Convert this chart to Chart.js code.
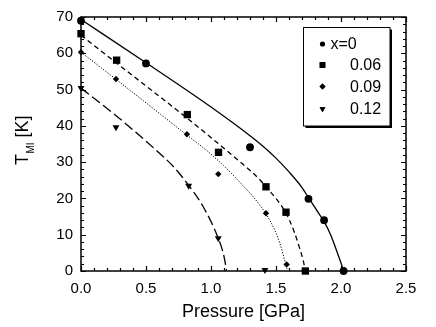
<!DOCTYPE html>
<html><head><meta charset="utf-8">
<script src="https://cdn.jsdelivr.net/npm/chart.js@4/dist/chart.umd.min.js"></script>
<style>html,body{margin:0;padding:0;background:#fff;} canvas{display:block;}</style>
</head><body>
<canvas id="c" width="436" height="327"></canvas>
<script>
const seriesLabels = ['x=0', '0.06', '0.09', '0.12'];
// measured points
const pressure0 = [0, 0.5, 1.3, 1.75, 1.87, 2.02];
const tmi0 = [69, 57.2, 34.1, 19.9, 14, 0];
const pressure06 = [0, 0.274, 0.818, 1.058, 1.423, 1.577, 1.726];
const tmi06 = [65.4, 58.1, 43.1, 32.7, 23.2, 16.2, 0];
const pressure09 = [0, 0.269, 0.815, 1.056, 1.423, 1.582];
const tmi09 = [60.3, 52.9, 37.7, 26.7, 15.9, 1.8];
const pressure12 = [0, 0.269, 0.828, 1.056, 1.415];
const tmi12 = [50.4, 39.6, 23.5, 9.0, 0.3];
// fitted curves
const fitP0 = [0, 0.5, 1.0, 1.3, 1.4, 1.5, 1.6, 1.7, 1.75, 1.81, 1.87, 1.92, 1.96, 2.0, 2.02];
const fitT0 = [69.3, 57.4, 45.2, 37.3, 34.4, 31.1, 27.3, 23.0, 20.2, 16.9, 13.6, 10.0, 6.2, 2.2, 0];
const fitP06 = [0, 0.27, 0.81, 1.06, 1.2, 1.38, 1.42, 1.5, 1.56, 1.6, 1.64, 1.68, 1.71, 1.726];
const fitT06 = [65.0, 57.4, 42.3, 35.0, 30.8, 25.0, 23.3, 20.0, 17.0, 14.3, 10.8, 6.5, 2.8, 0];
const fitP09 = [0, 0.27, 0.81, 1.0, 1.2, 1.42, 1.49, 1.53, 1.57, 1.585];
const fitT09 = [60.3, 52.8, 37.6, 32.2, 25.3, 15.9, 11.3, 7.6, 2.5, 0.5];
const fitP12 = [0, 0.27, 0.556, 0.71, 0.83, 0.94, 1.056, 1.1, 1.12];
const fitT12 = [50.4, 42.8, 34.0, 28.8, 23.5, 17.7, 9.0, 4.0, 0];
const xTickLabels = ['0.0', '0.5', '1.0', '1.5', '2.0', '2.5'];
const yTickLabels = ['0', '10', '20', '30', '40', '50', '60', '70'];

const FONT = "'Liberation Sans', Arial, sans-serif";
const zip = (xs, ys) => xs.map((x, i) => ({x: x, y: ys[i]}));

const markerStyles = [
  {pointStyle: 'circle', radius: 3.9, rotation: 0, lr: 2.6},
  {pointStyle: 'rect', radius: 5.2, rotation: 0, lr: 4},
  {pointStyle: 'rectRot', radius: 3.2, rotation: 0, lr: 3},
  {pointStyle: 'triangle', radius: 4, rotation: 180, lr: 3.3}
];
const lineStyles = [
  {dash: [], width: 1.3},
  {dash: [5, 3.5], width: 1.3},
  {dash: [1.2, 1.6], width: 1},
  {dash: [10, 4], width: 1.3}
];
const fitSets = [[fitP0, fitT0], [fitP06, fitT06], [fitP09, fitT09], [fitP12, fitT12]];
const markerSets = [[pressure0, tmi0], [pressure06, tmi06], [pressure09, tmi09], [pressure12, tmi12]];

const datasets = [];
fitSets.forEach((s, i) => {
  datasets.push({
    label: seriesLabels[i] + ' fit', data: zip(s[0], s[1]), showLine: true,
    borderColor: '#000', borderWidth: lineStyles[i].width, borderDash: lineStyles[i].dash,
    pointRadius: 0, cubicInterpolationMode: 'monotone', clip: false, fill: false
  });
});
markerSets.forEach((s, i) => {
  datasets.push({
    label: seriesLabels[i], data: zip(s[0], s[1]), showLine: false,
    pointStyle: markerStyles[i].pointStyle, pointRadius: markerStyles[i].radius,
    pointRotation: markerStyles[i].rotation,
    backgroundColor: '#000', borderColor: '#000', borderWidth: 0, clip: false
  });
});

const framePlugin = {
  id: 'frame',
  beforeDatasetsDraw(chart) {
    const ctx = chart.ctx, a = chart.chartArea;
    const xs = chart.scales.x, ys = chart.scales.y;
    ctx.save();
    ctx.strokeStyle = '#000';
    ctx.lineWidth = 1.5;
    ctx.strokeRect(a.left, a.top, a.right - a.left, a.bottom - a.top);
    ctx.lineWidth = 1.2;
    ctx.beginPath();
    for (let k = 0; k <= 25; k++) {
      const v = k * 0.1;
      const px = Math.round(xs.getPixelForValue(v)) + 0.5;
      const len = (k % 5 === 0) ? 5 : 3;
      ctx.moveTo(px, a.bottom); ctx.lineTo(px, a.bottom - len);
      ctx.moveTo(px, a.top); ctx.lineTo(px, a.top + len);
    }
    for (let k = 0; k <= 35; k++) {
      const v = k * 2;
      const py = Math.round(ys.getPixelForValue(v)) + 0.5;
      const len = (k % 5 === 0) ? 5 : 3;
      ctx.moveTo(a.left, py); ctx.lineTo(a.left + len, py);
      ctx.moveTo(a.right, py); ctx.lineTo(a.right - len, py);
    }
    ctx.stroke();
    ctx.restore();
  },
  afterDraw(chart) {
    const ctx = chart.ctx;
    // y-axis title with subscript
    ctx.save();
    ctx.fillStyle = '#000';
    ctx.translate(28, 165);
    ctx.rotate(-Math.PI / 2);
    ctx.textBaseline = 'alphabetic';
    ctx.textAlign = 'left';
    ctx.font = '18px ' + FONT;
    ctx.fillText('T', 0, 0);
    let w = ctx.measureText('T').width;
    ctx.font = '10px ' + FONT;
    ctx.fillText('MI', w + 0.5, 6);
    w += ctx.measureText('MI').width + 0.5;
    ctx.font = '18px ' + FONT;
    ctx.fillText(' [K]', w, 0);
    ctx.restore();

    // legend box
    const L = 303.5, T = 27.5, R = 390, B = 126;
    ctx.save();
    ctx.fillStyle = '#000';
    ctx.fillRect(L + 2, T + 2, R - L, B - T);
    ctx.fillStyle = '#fff';
    ctx.fillRect(L, T, R - L, B - T);
    ctx.strokeStyle = '#000';
    ctx.lineWidth = 1;
    ctx.strokeRect(L, T, R - L, B - T);
    const rowY = [44, 65, 86.5, 109];
    const textX = [330.5, 350, 350, 350];
    ctx.font = '16px ' + FONT;
    ctx.textBaseline = 'middle';
    ctx.textAlign = 'left';
    for (let i = 0; i < 4; i++) {
      Chart.helpers.drawPoint(ctx, {
        pointStyle: markerStyles[i].pointStyle, radius: markerStyles[i].lr,
        rotation: markerStyles[i].rotation, borderWidth: 0
      }, 322.5, rowY[i]);
      ctx.fillStyle = '#000';
      ctx.fill();
      ctx.fillText(seriesLabels[i], textX[i], rowY[i] + 1);
    }
    ctx.restore();
  }
};

new Chart(document.getElementById('c'), {
  type: 'scatter',
  data: {datasets: datasets},
  options: {
    responsive: false, animation: false, devicePixelRatio: 1,
    layout: {padding: {top: 17, right: 30, left: 0, bottom: 0}},
    plugins: {legend: {display: false}, tooltip: {enabled: false}},
    scales: {
      x: {
        type: 'linear', min: 0, max: 2.5,
        grid: {display: false, drawTicks: false}, border: {display: false},
        ticks: {stepSize: 0.5, padding: 9, color: '#000', font: {family: FONT, size: 15},
          maxRotation: 0, autoSkip: false,
          callback: (v, i) => xTickLabels[i]},
        title: {display: true, text: 'Pressure [GPa]', color: '#000',
          font: {family: FONT, size: 18}, padding: {top: 0, bottom: 4}},
        afterFit: s => { s.height = 56; }
      },
      y: {
        type: 'linear', min: 0, max: 70,
        grid: {display: false, drawTicks: false}, border: {display: false},
        ticks: {stepSize: 10, padding: 8, color: '#000', font: {family: FONT, size: 15},
          autoSkip: false, callback: (v, i) => yTickLabels[i]},
        afterFit: s => { s.width = 81; }
      }
    }
  },
  plugins: [framePlugin]
});
</script>
</body></html>
